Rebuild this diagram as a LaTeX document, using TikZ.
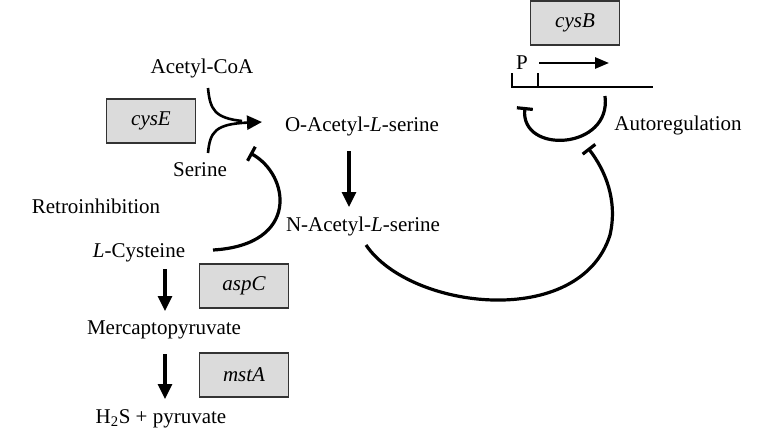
\documentclass[tikz,border=0pt]{standalone}
\usepackage{fontspec}
\setmainfont{Liberation Serif}
\usetikzlibrary{arrows.meta}
\begin{document}
\begin{tikzpicture}[x=1pt,y=-1pt,
  every node/.style={font=\fontsize{21}{25}\selectfont, inner sep=0pt},
  gene/.style={draw=black!80, line width=1.6pt, fill=black!14, minimum width=89pt, minimum height=44pt, font=\fontsize{21}{25}\selectfont\itshape},
  conn/.style={line width=3.2pt, black},
  arr/.style={conn, -{Triangle[length=15pt,width=14pt]}},
  inh/.style={conn, -{Bar[width=16pt,line width=3.2pt]}}]
\useasboundingbox (0,0) rectangle (757,436);
% genes
\node[gene] (cysB) at (575,23) {cysB};
\node[gene] (cysE) at (151,121) {cysE};
\node[gene] (aspC) at (244,286) {aspC};
\node[gene] (mstA) at (244,375) {mstA};
% metabolites
\node (acoa) at (202,68) {Acetyl-CoA};
\node (ser) at (200,170) {Serine};
\node (oas) at (362,126) {O-Acetyl-\textit{L}-serine};
\node (nas) at (363,226) {N-Acetyl-\textit{L}-serine};
\node (retro) at (96,206) {Retroinhibition};
\node (cys) at (139,253) {\textit{L}-Cysteine};
\node (merc) at (164,330) {Mercaptopyruvate};
\node (h2s) at (161,419) {H\textsubscript{2}S + pyruvate};
\node (auto) at (678,125) {Autoregulation};
\node (P) at (522,63) {P};
% coordinates
\coordinate (acoaS) at (208,88);
\coordinate (serS) at (208,153);
\coordinate (joinE) at (262,122);
\coordinate (pL) at (512,73);
\coordinate (pLb) at (512,87);
\coordinate (pR) at (538,73);
\coordinate (pRb) at (538,87);
\coordinate (geneE) at (653,87);
\coordinate (tsA) at (539,63);
\coordinate (tsB) at (609,63);
\coordinate (auS) at (605,96);
\coordinate (auE) at (525,107);
\coordinate (nasS) at (366,245);
\coordinate (nasE) at (588,148);
\coordinate (cysS) at (213,250);
\coordinate (cysE2) at (250,153);
% merging arrow
\draw[conn, line width=2.6pt] (acoaS) .. controls (210,110) and (215,118) .. (242,121);
\draw[arr, line width=2.6pt] (serS) .. controls (210,132) and (215,124) .. (joinE);
% OAS -> NAS
\draw[arr] (349,151) -- (349,207);
% cysteine -> mercaptopyruvate -> H2S
\draw[arr] (165,269) -- (165,311);
\draw[arr] (165,354) -- (165,399);
% retroinhibition
\draw[inh] (cysS) .. controls (300,245) and (290,175) .. (cysE2);
% promoter & gene
\draw[line width=2.6pt] (pL) -- (pLb) -- (geneE);
\draw[line width=2.6pt] (pR) -- (pRb);
\draw[line width=2.6pt, -{Triangle[length=14pt,width=11pt]}] (tsA) -- (tsB);
% autoregulation
\draw[inh] (auS) .. controls (612,150) and (520,155) .. (auE);
% NAS inhibition
\draw[inh] (nasS) .. controls (410,310) and (580,330) .. (610,235) .. controls (618,200) and (605,170) .. (nasE);
\end{tikzpicture}
\end{document}
